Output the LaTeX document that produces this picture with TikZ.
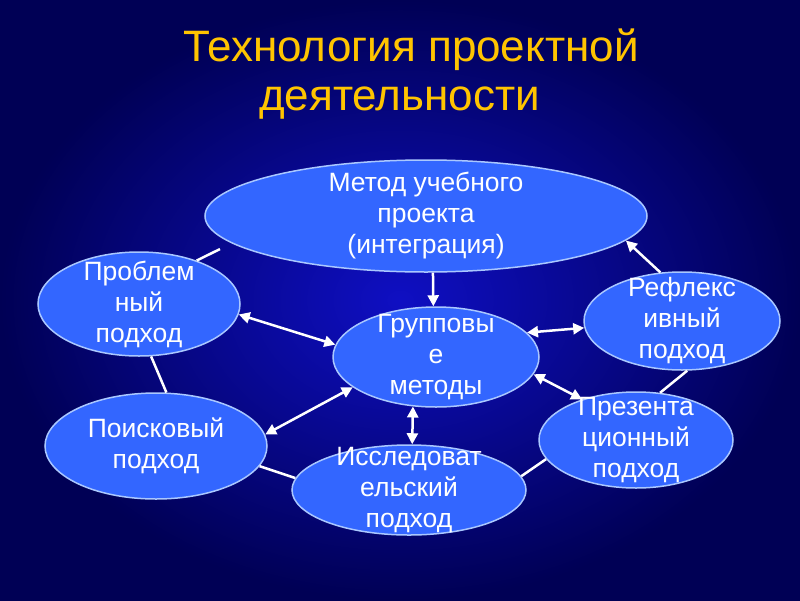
\documentclass[tikz,border=0pt]{standalone}
\usepackage{fontspec}
\setmainfont{Liberation Sans}
\usetikzlibrary{arrows.meta,shapes.geometric}
\definecolor{bgdark}{RGB}{0,0,85}
\definecolor{bglight}{RGB}{15,15,195}
\definecolor{ovalfill}{RGB}{51,102,255}
\definecolor{ovalline}{RGB}{170,200,255}
\definecolor{titlecol}{RGB}{255,196,0}
\tikzset{
	oval/.style={ellipse, draw=ovalline, line width=1.5pt, fill=ovalfill, inner sep=0pt},
	ovaltext/.style={text=white, align=center, font=\fontsize{26.5}{31}\selectfont},
	link/.style={draw=white, line width=2.5pt},
	twoway/.style={{Triangle[width=11pt,length=11pt]}-{Triangle[width=11pt,length=11pt]}, draw=white, line width=2.5pt},
	oneway/.style={-{Triangle[width=11pt,length=11pt]}, draw=white, line width=2.5pt},
	heading/.style={text=titlecol, font=\fontsize{44}{48}\selectfont, anchor=base west, inner sep=0pt}
}
\begin{document}
\begin{tikzpicture}[x=1pt, y=-1pt]
	\shade[inner color=bglight, outer color=bgdark] (0,0) rectangle (800,600);
	\useasboundingbox (0,0) rectangle (800,600);

	\node[heading] (title1) at (183,61) {Технология проектной};
	\node[heading] (title2) at (259,110) {деятельности};

	\node[oval, minimum width=442pt, minimum height=112pt, label={[ovaltext]center:Метод учебного\\проекта\\(интеграция)}] (metod) at (426,216) {};
	\node[oval, minimum width=202pt, minimum height=104pt, label={[ovaltext]center:Проблем\\ный\\подход}] (problem) at (139,304) {};
	\node[oval, minimum width=206pt, minimum height=100pt, label={[ovaltext]center:Групповы\\е\\методы}] (group) at (436,357) {};
	\node[oval, minimum width=196pt, minimum height=98pt, label={[ovaltext]center:Рефлекс\\ивный\\подход}] (reflex) at (682,321) {};
	\node[oval, minimum width=222pt, minimum height=106pt, label={[ovaltext]center:Поисковый\\подход}] (search) at (156,446) {};
	\node[oval, minimum width=234pt, minimum height=90pt, label={[ovaltext]center:Исследоват\\ельский\\подход}] (research) at (409,490) {};
	\node[oval, minimum width=194pt, minimum height=96pt, label={[ovaltext]center:Презента\\ционный\\подход}] (present) at (636,440) {};

	% arrows to and from the central oval
	\draw[oneway] (metod.-83) -- (group.93);
	\draw[twoway] (problem.-6) -- (group.173);
	\draw[twoway] (group.15) -- (reflex.184);
	\draw[twoway] (search.6) -- (group.200);
	\draw[twoway] (group.245) -- (research.86);
	\draw[twoway] (group.-10) -- (present.143);
	\draw[oneway] (reflex.114) -- (metod.-7);

	% plain links round the ring
	\draw[link, shorten >=13pt] (problem.37) -- (metod.188);
	\draw[link] (problem.-77) -- (search.79);
	\draw[link] (search.-11) -- (research.174);
	\draw[link] (research.7) -- (present.192);
	\draw[link] (reflex.-84) -- (present.63);
\end{tikzpicture}
\end{document}
